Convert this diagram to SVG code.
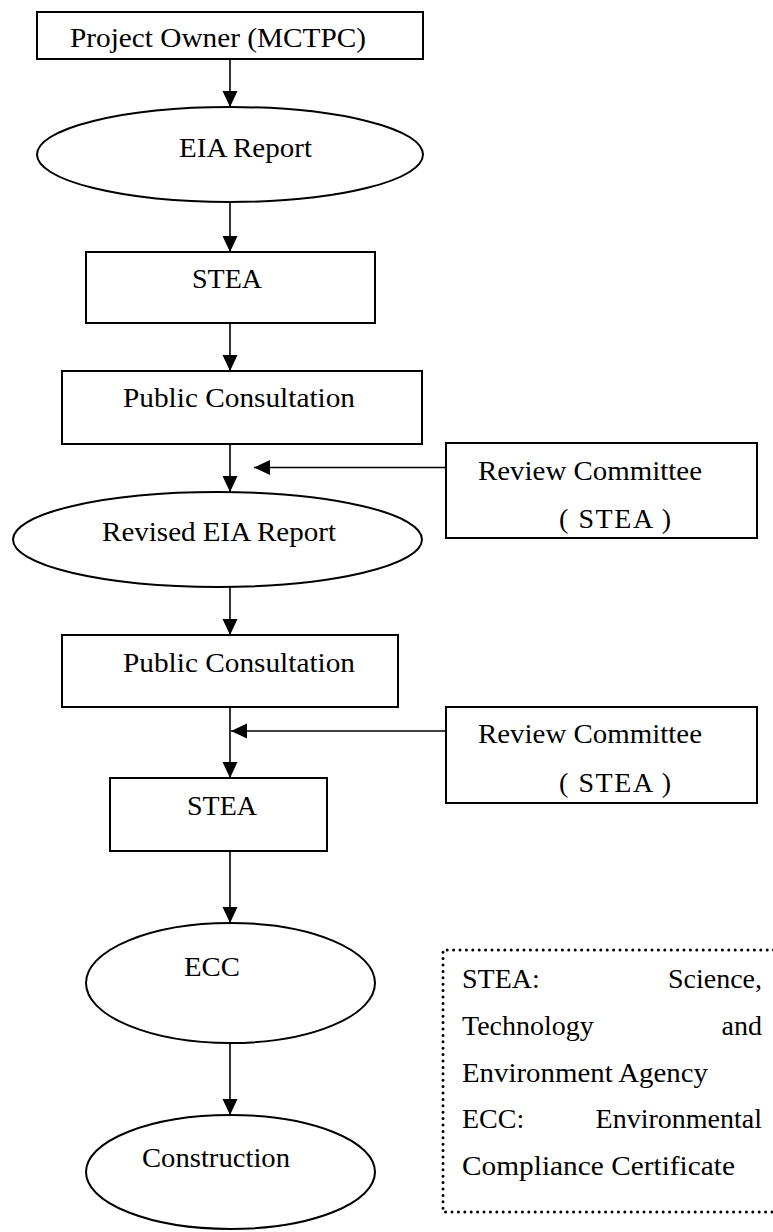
<svg xmlns="http://www.w3.org/2000/svg" width="773" height="1232" viewBox="0 0 773 1232">
  <style>
    .box { fill: #fff; stroke: #000; stroke-width: 2; }
    .conn { fill: none; stroke: #000; stroke-width: 1.6; marker-end: url(#arrow); }
    .t { font-family: "Liberation Serif", "DejaVu Serif", "Times New Roman", Times, serif; font-size: 28px; fill: #000; }
    .end { text-anchor: end; }
    .legend { fill: none; stroke: #000; stroke-width: 3; stroke-linecap: round; stroke-dasharray: 0 6.4; }
  </style>
  <defs>
    <marker id="arrow" markerUnits="userSpaceOnUse" markerWidth="17" markerHeight="16" refX="16" refY="7.5" orient="auto">
      <path d="M0,0 L16,7.5 L0,15 z" fill="#000"/>
    </marker>
  </defs>

  <!-- connectors -->
  <g id="connectors">
    <line class="conn" x1="230" y1="59" x2="230" y2="107"/>
    <line class="conn" x1="230" y1="202" x2="230" y2="252"/>
    <line class="conn" x1="230" y1="323" x2="230" y2="371"/>
    <line class="conn" x1="230" y1="444" x2="230" y2="492"/>
    <line class="conn" x1="446" y1="467.5" x2="254" y2="467.5"/>
    <line class="conn" x1="230" y1="587" x2="230" y2="635"/>
    <line class="conn" x1="230" y1="707" x2="230" y2="778"/>
    <line class="conn" x1="446" y1="731" x2="231" y2="731"/>
    <line class="conn" x1="230" y1="851" x2="230" y2="923"/>
    <line class="conn" x1="230" y1="1043" x2="230" y2="1115"/>
  </g>

  <g id="project-owner">
    <rect class="box" x="37" y="12" width="386" height="47"/>
    <text class="t" x="70" y="47" textLength="296" lengthAdjust="spacingAndGlyphs">Project Owner (MCTPC)</text>
  </g>

  <g id="eia-report">
    <ellipse class="box" cx="230" cy="154.5" rx="193" ry="47.5"/>
    <text class="t" x="179" y="157" textLength="133" lengthAdjust="spacingAndGlyphs">EIA Report</text>
  </g>

  <g id="stea-1">
    <rect class="box" x="86" y="252" width="289" height="71"/>
    <text class="t" x="192" y="288" textLength="70" lengthAdjust="spacingAndGlyphs">STEA</text>
  </g>

  <g id="public-consultation-1">
    <rect class="box" x="62" y="371" width="360" height="73"/>
    <text class="t" x="123" y="407" textLength="232" lengthAdjust="spacingAndGlyphs">Public Consultation</text>
  </g>

  <g id="review-committee-1">
    <rect class="box" x="446" y="443" width="311" height="95"/>
    <text class="t" x="478" y="480" textLength="224" lengthAdjust="spacingAndGlyphs">Review Committee</text>
    <text class="t" x="559" y="528" textLength="112" lengthAdjust="spacing">( STEA )</text>
  </g>

  <g id="revised-eia-report">
    <ellipse class="box" cx="217.5" cy="539.5" rx="204.5" ry="47.5"/>
    <text class="t" x="102" y="541" textLength="234" lengthAdjust="spacingAndGlyphs">Revised EIA Report</text>
  </g>

  <g id="public-consultation-2">
    <rect class="box" x="62" y="635" width="336" height="72"/>
    <text class="t" x="123" y="672" textLength="232" lengthAdjust="spacingAndGlyphs">Public Consultation</text>
  </g>

  <g id="review-committee-2">
    <rect class="box" x="446" y="707" width="311" height="96"/>
    <text class="t" x="478" y="743" textLength="224" lengthAdjust="spacingAndGlyphs">Review Committee</text>
    <text class="t" x="559" y="792" textLength="112" lengthAdjust="spacing">( STEA )</text>
  </g>

  <g id="stea-2">
    <rect class="box" x="110" y="778" width="217" height="73"/>
    <text class="t" x="187" y="815" textLength="70" lengthAdjust="spacingAndGlyphs">STEA</text>
  </g>

  <g id="ecc">
    <ellipse class="box" cx="230.5" cy="983" rx="144.5" ry="60"/>
    <text class="t" x="184" y="976" textLength="56" lengthAdjust="spacingAndGlyphs">ECC</text>
  </g>

  <g id="construction">
    <ellipse class="box" cx="230.5" cy="1172" rx="144.5" ry="57"/>
    <text class="t" x="142" y="1167" textLength="148" lengthAdjust="spacingAndGlyphs">Construction</text>
  </g>

  <!-- abbreviation key, dotted frame running off the right edge -->
  <g id="legend">
    <path class="legend" d="M780,950 H443 V1212 H780"/>
    <text class="t" x="462" y="988">STEA:</text>
    <text class="t end" x="762" y="988">Science,</text>
    <text class="t" x="462" y="1035">Technology</text>
    <text class="t end" x="762" y="1035">and</text>
    <text class="t" x="462" y="1082" textLength="246" lengthAdjust="spacingAndGlyphs">Environment Agency</text>
    <text class="t" x="462" y="1128">ECC:</text>
    <text class="t end" x="762" y="1128">Environmental</text>
    <text class="t" x="462" y="1175" textLength="273" lengthAdjust="spacingAndGlyphs">Compliance Certificate</text>
  </g>
</svg>
